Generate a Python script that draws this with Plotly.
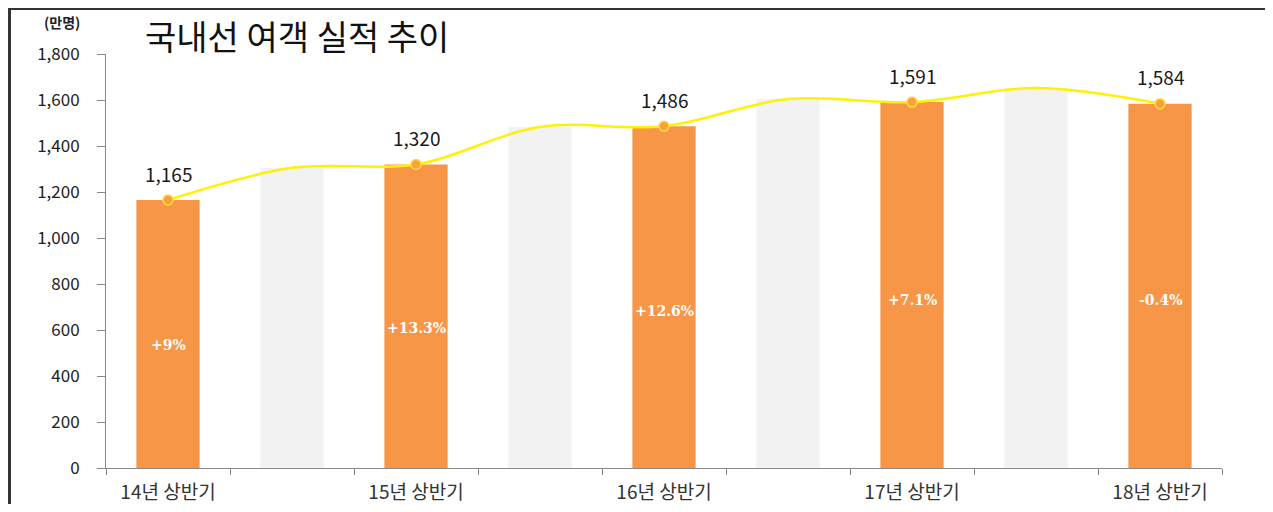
import plotly.graph_objects as go

# ---- data ----
categories = ["14년 상반기", "14년 하반기", "15년 상반기", "15년 하반기", "16년 상반기",
              "16년 하반기", "17년 상반기", "17년 하반기", "18년 상반기"]
tick_labels = ["14년 상반기", "", "15년 상반기", "", "16년 상반기", "", "17년 상반기", "", "18년 상반기"]
first_half = [1165, 1320, 1486, 1591, 1584]          # 상반기 (orange bars)
second_half = [1305, 1483, 1604, 1652]               # 하반기 (grey bars)
growth = ["+9%", "+13.3%", "+12.6%", "+7.1%", "-0.4%"]
y_ticks = [0, 200, 400, 600, 800, 1000, 1200, 1400, 1600, 1800]

first_cats = categories[0::2]
second_cats = categories[1::2]
all_values = []
for i in range(len(categories)):
    all_values.append(first_half[i // 2] if i % 2 == 0 else second_half[i // 2])

# page body has an 8px margin, so the figure starts at (8, 8)
W, H = 1257, 496
ML, MR, MT, MB = 98, 43, 46, 36
PW = W - ML - MR
PH = H - MT - MB

FONT = "Noto Sans CJK KR"

fig = go.Figure()

fig.add_trace(go.Bar(
    x=second_cats, y=second_half, marker=dict(color="#F2F2F2", line=dict(width=0)),
    width=0.51, hoverinfo="skip", showlegend=False,
))
fig.add_trace(go.Bar(
    x=first_cats, y=first_half, marker=dict(color="#F79646", line=dict(width=0)),
    width=0.51, showlegend=False,
))
# smooth trend line through all half-year tops
fig.add_trace(go.Scatter(
    x=categories, y=all_values, mode="lines",
    line=dict(color="#FFF200", width=2.5, shape="spline", smoothing=1.0),
    hoverinfo="skip", showlegend=False,
))
fig.add_trace(go.Scatter(
    x=first_cats, y=first_half, mode="markers",
    marker=dict(size=10, color="#F6A43A", line=dict(color="#FFD84A", width=1.5)),
    showlegend=False,
))

# value labels above orange bars
for c, v in zip(first_cats, first_half):
    fig.add_annotation(x=c, y=v, text=f"{v:,}", showarrow=False, yanchor="middle", yshift=27,
                       font=dict(family=FONT, size=19, color="#1a1a1a"))

# growth labels inside orange bars
for c, v, g in zip(first_cats, first_half, growth):
    fig.add_annotation(x=c, y=v * 0.46, text=f"<b>{g}</b>", showarrow=False,
                       font=dict(family="DejaVu Serif", size=14, color="white"))

# unit label
fig.add_annotation(xref="paper", yref="paper", x=(82 - 8 - ML) / PW, y=1 + (MT - 14) / PH,
                   xanchor="right", yanchor="middle", text="<b>(만명)</b>", showarrow=False,
                   font=dict(family=FONT, size=14, color="#222"))

# frame: top line and left edge
fig.add_shape(type="line", xref="paper", yref="paper",
              x0=-ML / PW, x1=(W - ML) / PW, y0=1 + (MT - 1) / PH, y1=1 + (MT - 1) / PH,
              line=dict(color="#333", width=2))
fig.add_shape(type="rect", xref="paper", yref="paper",
              x0=-ML / PW, x1=(3 - ML) / PW, y0=-MB / PH, y1=1 + MT / PH,
              line=dict(width=0), fillcolor="#333")

fig.update_layout(
    width=W, height=H,
    margin=dict(l=ML, r=MR, t=MT, b=MB, pad=0, autoexpand=False),
    paper_bgcolor="white", plot_bgcolor="white",
    barmode="overlay",
    title=dict(text="국내선 여객 실적 추이", x=(145 - 8) / W, xanchor="left", y=1 - (38 - 8) / H,
               yanchor="middle", font=dict(family=FONT, size=34, color="#111")),
    font=dict(family=FONT),
    xaxis=dict(
        type="category", categoryorder="array", categoryarray=categories,
        tickmode="array", tickvals=categories, ticktext=tick_labels,
        tickson="boundaries", ticks="outside", ticklen=6, tickcolor="#888",
        showline=True, linecolor="#888", linewidth=1, showgrid=False,
        tickfont=dict(family=FONT, size=19, color="#333"), ticklabelstandoff=7,
        range=[-0.5, 8.5], automargin=False,
    ),
    yaxis=dict(
        range=[0, 1800], tickvals=y_ticks, tickformat=",",
        ticks="outside", ticklen=8, tickcolor="#888",
        showline=True, linecolor="#888", linewidth=1, showgrid=False, zeroline=False,
        tickfont=dict(family=FONT, size=17, color="#222"), ticklabelstandoff=14,
        automargin=False,
    ),
)

fig.write_html("out.html")
